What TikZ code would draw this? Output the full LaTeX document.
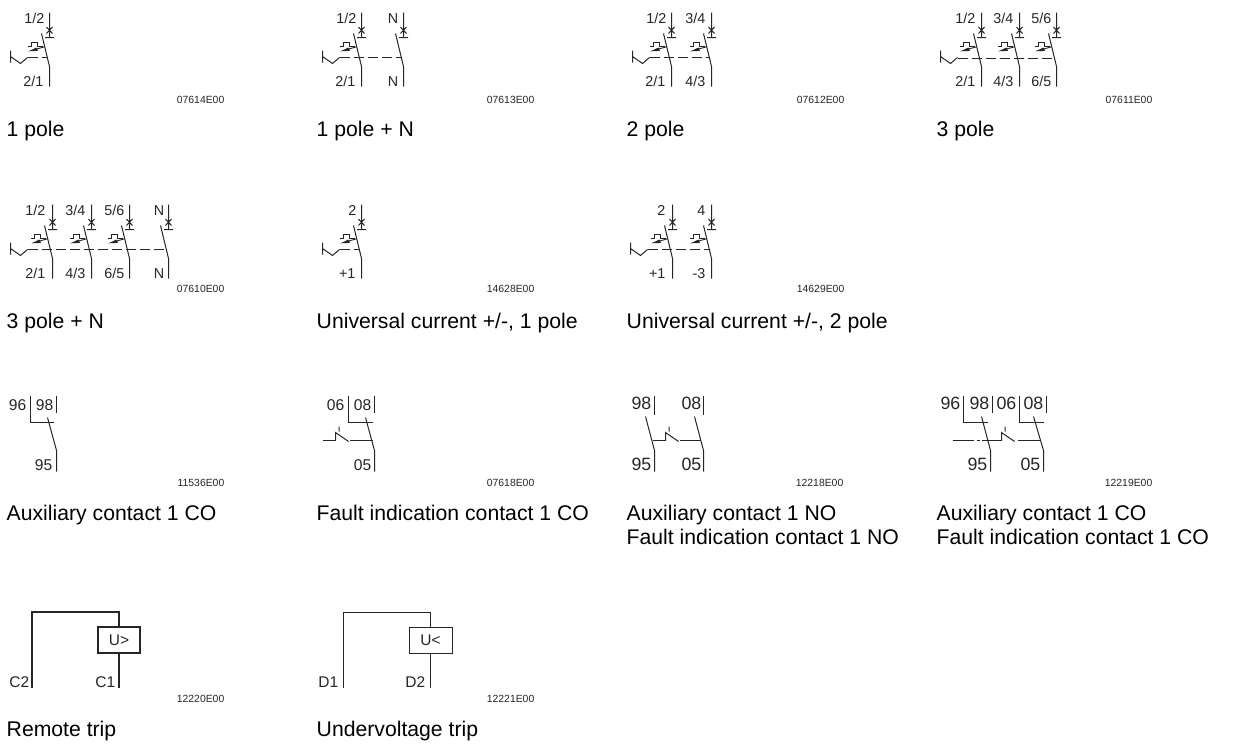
\documentclass[tikz,border=0pt]{standalone}
\usepackage{fontspec}
\setmainfont{Liberation Sans}
\newcounter{nn}
\tikzset{
 wire/.style={line width=1pt,draw=black!85},
 heavy/.style={line width=2pt,draw=black!85},
 blt/.style={anchor=base east,inner sep=0pt,text=black!85},
 captxt/.style={anchor=base west,inner sep=0pt,font=\fontsize{21.2}{24}\selectfont,text=black},
 codetxt/.style={anchor=base east,inner sep=0pt,font=\fontsize{10.4}{12}\selectfont,text=black!85},
 smalltxt/.style={font=\fontsize{14.3}{16}\selectfont},
 bigtxt/.style={font=\fontsize{17.8}{20}\selectfont},
 midtxt/.style={font=\fontsize{15.6}{18}\selectfont},
 coiltxt/.style={font=\fontsize{15.5}{18}\selectfont},
}
% label helper
\newcommand{\lbl}[4]{\stepcounter{nn}\node[blt,#1] (n\thenn) at (#2,#3) {#4};}
\newcommand{\cpt}[3]{\stepcounter{nn}\node[captxt] (n\thenn) at (#1,#2) {#3};}
\newcommand{\cde}[3]{\stepcounter{nn}\node[codetxt] (n\thenn) at (#1,#2) {#3};}
% pole: x, y0 (row offset), with thermal symbol
\newcommand{\cross}[2]{%
 \begin{scope}[shift={(#1,#2)}]
 \draw[wire] (0,12) -- (0,37) (-4.5,37) -- (4.5,37) (-3,26.5) -- (3,33) (3,26.5) -- (-3,33);
 \end{scope}}
\newcommand{\blade}[2]{%
 \begin{scope}[shift={(#1,#2)}]
 \draw[wire] (-8,33) -- (0,66) -- (0,86);
 \end{scope}}
\newcommand{\therm}[2]{%
 \begin{scope}[shift={(#1,#2)}]
 \draw[wire,line width=0.9pt] (-21.5,46) -- (-18,46) -- (-18,41.5) -- (-12.3,41.5) -- (-12.3,45.5) -- (-7,45.5);
 \draw[wire,line width=0.9pt] (-4.5,46.2) -- (-14,48.8);
 \fill[black!85] (-21,50.8) -- (-13,47) -- (-11.5,50.4) -- cycle;
 \end{scope}}
\newcommand{\pol}[2]{\cross{#1}{#2}\blade{#1}{#2}\therm{#1}{#2}}
\newcommand{\npol}[2]{\cross{#1}{#2}\blade{#1}{#2}}
\newcommand{\hand}[2]{%
 \begin{scope}[shift={(#1,#2)}]
 \draw[wire] (0,50) -- (0,62) (0,56) -- (10,63) -- (17,57);
 \end{scope}}
\newcommand{\dsh}[3]{\draw[wire,dash pattern=on 10pt off 4pt] (#1,#3) -- (#2,#3);}
% fault indicator latch: x at base, row y=440
\newcommand{\latch}[1]{\draw[wire] (#1,440) -- (#1,432) -- (#1+13,441) (#1+3.5,426) -- (#1+3.5,431);}
\begin{document}
\begin{tikzpicture}[x=1pt,y=-1pt]
\useasboundingbox (0,0) rectangle (1236,745);
\fill[white] (0,0) rectangle (1236,745);
\begin{scope}[shift={(0.5,0.5)}]
% ROW 1
\pol{49}{0}\hand{10}{0}\dsh{27}{47}{57}
\lbl{smalltxt}{44}{22.5}{1/2}\lbl{smalltxt}{43}{85.5}{2/1}
\cde{224}{102.5}{07614E00}\cpt{6}{136}{1 pole}

\pol{361}{0}\npol{403}{0}\hand{322}{0}\dsh{339}{400}{57}
\lbl{smalltxt}{356}{22.5}{1/2}\lbl{smalltxt}{355}{85.5}{2/1}\lbl{smalltxt}{398}{22.5}{N}\lbl{smalltxt}{398}{85.5}{N}
\cde{534}{102.5}{07613E00}\cpt{316}{136}{1 pole + N}

\pol{671}{0}\pol{711}{0}\hand{632}{0}\dsh{649}{708}{57}
\lbl{smalltxt}{666}{22.5}{1/2}\lbl{smalltxt}{665}{85.5}{2/1}\lbl{smalltxt}{705}{22.5}{3/4}\lbl{smalltxt}{705}{85.5}{4/3}
\cde{844}{102.5}{07612E00}\cpt{626}{136}{2 pole}

\pol{981}{0}\pol{1019}{0}\pol{1056}{0}\hand{940}{0}\dsh{957}{1054}{58}
\lbl{smalltxt}{975}{22.5}{1/2}\lbl{smalltxt}{975}{85.5}{2/1}\lbl{smalltxt}{1013}{22.5}{3/4}\lbl{smalltxt}{1013}{85.5}{4/3}\lbl{smalltxt}{1051}{22.5}{5/6}\lbl{smalltxt}{1051}{85.5}{6/5}
\cde{1152}{102.5}{07611E00}\cpt{936}{136}{3 pole}

% ROW 2
\pol{52}{192}\pol{91}{192}\pol{129}{192}\npol{168}{192}\hand{10}{192}\dsh{27}{165}{249}
\lbl{smalltxt}{45}{214.5}{1/2}\lbl{smalltxt}{85}{214.5}{3/4}\lbl{smalltxt}{124}{214.5}{5/6}\lbl{smalltxt}{164}{214.5}{N}
\lbl{smalltxt}{45}{277.5}{2/1}\lbl{smalltxt}{85}{277.5}{4/3}\lbl{smalltxt}{124}{277.5}{6/5}\lbl{smalltxt}{164}{277.5}{N}
\cde{224}{292}{07610E00}\cpt{6}{328}{3 pole + N}

\pol{361}{192}\hand{322}{192}\dsh{339}{359}{249}
\lbl{smalltxt}{356}{214.5}{2}\lbl{smalltxt}{355}{277.5}{+1}
\cde{534}{292}{14628E00}\cpt{316}{328}{Universal current +/-, 1 pole}

\pol{672}{192}\pol{711}{192}\hand{630}{192}\dsh{647}{708}{249}
\lbl{smalltxt}{665}{214.5}{2}\lbl{smalltxt}{705}{214.5}{4}\lbl{smalltxt}{665}{277.5}{+1}\lbl{smalltxt}{705}{277.5}{-3}
\cde{844}{292}{14629E00}\cpt{626}{328}{Universal current +/-, 2 pole}

% ROW 3
\draw[wire] (30,395) -- (30,422) -- (53,422);
\draw[wire] (56,395) -- (56,412);
\draw[wire] (47,417) -- (56,450) -- (56,471);
\lbl{midtxt}{26}{410}{96}\lbl{midtxt}{53}{410}{98}\lbl{midtxt}{52}{470}{95}
\cde{224}{486}{11536E00}\cpt{6}{520}{Auxiliary contact 1 CO}

\draw[wire] (348,395) -- (348,422) -- (372,422);
\draw[wire] (374,395) -- (374,412);
\draw[wire] (365,417) -- (374,450) -- (374,471);
\draw[wire] (322,440) -- (335,440);
\latch{335}
\draw[wire] (349,440) -- (372,440);
\lbl{midtxt}{344}{410}{06}\lbl{midtxt}{371}{410}{08}\lbl{midtxt}{371}{470}{05}
\cde{534}{486}{07618E00}\cpt{316}{520}{Fault indication contact 1 CO}

\draw[wire] (654,395) -- (654,414);
\draw[wire] (645,416) -- (654,450) -- (654,471);
\draw[wire] (703,395) -- (703,414);
\draw[wire] (694,416) -- (703,450) -- (703,471);
\draw[wire] (652,440) -- (665,440);
\latch{665}
\draw[wire] (679,440) -- (700,440);
\lbl{bigtxt}{651}{409}{98}\lbl{bigtxt}{701}{409}{08}\lbl{bigtxt}{651}{470}{95}\lbl{bigtxt}{701}{470}{05}
\cde{843}{486}{12218E00}
\cpt{626}{520}{Auxiliary contact 1 NO}\cpt{626}{544}{Fault indication contact 1 NO}

\draw[wire] (963,395) -- (963,422) -- (987,422);
\draw[wire] (992,395) -- (992,412);
\draw[wire] (981,416) -- (990,450) -- (990,471);
\draw[wire] (1019,395) -- (1019,422) -- (1043,422);
\draw[wire] (1046,395) -- (1046,412);
\draw[wire] (1033,416) -- (1043,450) -- (1043,471);
\draw[wire] (952,440) -- (973,440) (976,440) -- (979,440) (981,440) -- (1001,440);
\latch{1001}
\draw[wire] (1017,440) -- (1040,440);
\lbl{bigtxt}{960}{409}{96}\lbl{bigtxt}{989}{409}{98}\lbl{bigtxt}{1016}{409}{06}\lbl{bigtxt}{1043}{409}{08}
\lbl{bigtxt}{987}{470}{95}\lbl{bigtxt}{1040}{470}{05}
\cde{1152}{486}{12219E00}
\cpt{936}{520}{Auxiliary contact 1 CO}\cpt{936}{544}{Fault indication contact 1 CO}

% ROW 4
\node[draw=black!85,line width=2pt,minimum width=42pt,minimum height=26pt,inner sep=0pt,coiltxt,text=black!85] (ub) at (118.5,639.5) {U>};
\coordinate (c2) at (31.5,687);\coordinate (c1) at (118.5,687);
\draw[heavy] (c2) -- (31.5,611.5) -| (ub.north);
\draw[heavy] (ub.south) -- (c1);
\lbl{coiltxt}{29}{687}{C2}\lbl{coiltxt}{115}{687}{C1}
\cde{224}{702}{12220E00}\cpt{6}{736}{Remote trip}

\node[draw=black!85,line width=1pt,minimum width=43pt,minimum height=26pt,inner sep=0pt,coiltxt,text=black!85] (ul) at (430,640) {U<};
\coordinate (d1) at (343,687);\coordinate (d2) at (430,687);
\draw[wire] (d1) -- (343,612) -| (ul.north);
\draw[wire] (ul.south) -- (d2);
\lbl{coiltxt}{338}{687}{D1}\lbl{coiltxt}{425}{687}{D2}
\cde{534}{702}{12221E00}\cpt{316}{736}{Undervoltage trip}
\end{scope}
\end{tikzpicture}
\end{document}
